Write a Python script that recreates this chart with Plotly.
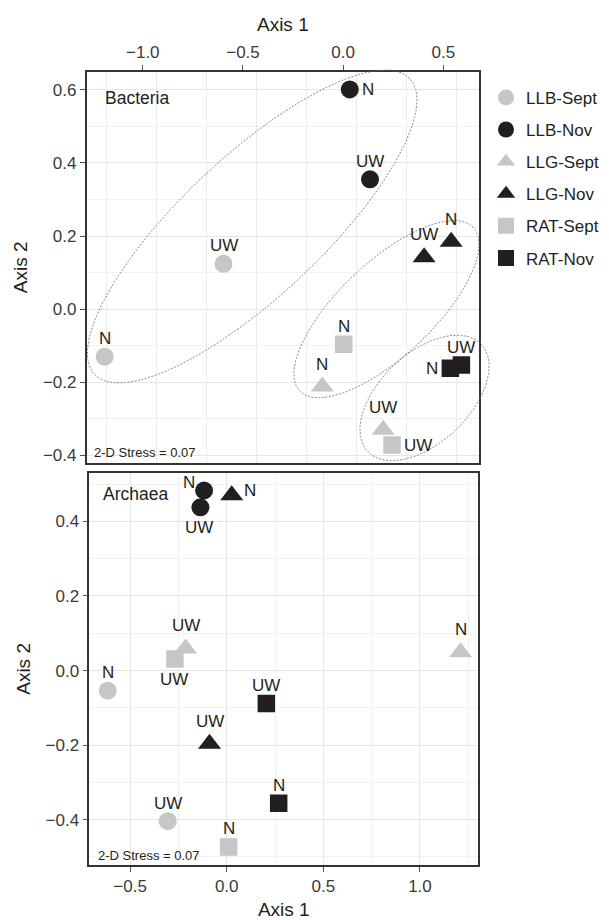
import numpy as np
import plotly.graph_objects as go

W, H = 609, 920
FONT = "Liberation Sans, Arial, sans-serif"
INK = "#231f20"
GREY = "#c5c6c8"

# ---- data -------------------------------------------------------------
series = ["LLB-Sept", "LLB-Nov", "LLG-Sept", "LLG-Nov", "RAT-Sept", "RAT-Nov"]
samples = ["N", "UW"]
series_symbol = ["circle", "circle", "triangle-up", "triangle-up", "square", "square"]
series_colour = [GREY, INK, GREY, INK, GREY, INK]
series_size = [18, 18, 20, 20, 17.5, 17.5]

# nMDS scores, one [N, UW] pair per series
bacteria_axis1 = [[-1.190, -0.597], [0.033, 0.134], [-0.104, 0.200],
                  [0.539, 0.404], [0.003, 0.244], [0.535, 0.590]]
bacteria_axis2 = [[-0.130, 0.124], [0.601, 0.355], [-0.212, -0.330],
                  [0.184, 0.142], [-0.096, -0.372], [-0.162, -0.153]]
archaea_axis1 = [[-0.616, -0.305], [-0.117, -0.136], [1.210, -0.213],
                 [0.026, -0.089], [0.010, -0.268], [0.269, 0.205]]
archaea_axis2 = [[-0.054, -0.404], [0.483, 0.438], [0.049, 0.059],
                 [0.470, -0.196], [-0.473, 0.031], [-0.356, -0.088]]

# where each sample name sits relative to its point
bacteria_label_pos = [["above", "above"], ["right", "above"], ["above", "above"],
                      ["above", "above"], ["above", "right"], ["left", "above"]]
archaea_label_pos = [["above", "above"], ["upleft", "below"], ["above", "above"],
                     ["right", "above"], ["above", "below"], ["above", "above"]]

# cluster ellipses (bacteria): centre and two conjugate semi-axis vectors
ellipse_centre = [(-0.454, 0.226), (0.216, 0.000), (0.406, -0.243)]
ellipse_u = [(0.7865, 0.4049), (0.4331, 0.2241), (0.2827, 0.1473)]
ellipse_v = [(-0.2409, 0.1392), (-0.1621, 0.0932), (-0.1551, 0.0885)]

stress_text = "2-D Stress = 0.07"

# ---- layout geometry (pixel boxes: left, top, right, bottom) ---------
TOP_BOX = (86.7, 71.7, 479.0, 464.0)
BOT_BOX = (89.3, 474.0, 478.3, 866.7)
TOP_XR, TOP_YR = [-1.28, 0.678], [-0.421, 0.650]
BOT_XR, BOT_YR = [-0.711, 1.302], [-0.521, 0.530]
PAD = 20  # px of room for the ellipses beyond the frame


def xdom(box, pad=0):
    return [(box[0] - pad) / W, (box[2] + pad) / W]


def ydom(box, pad=0):
    return [1 - (box[3] + pad) / H, 1 - (box[1] - pad) / H]


def padded(rng, span_px, pad):
    per_px = (rng[1] - rng[0]) / span_px
    return [rng[0] - pad * per_px, rng[1] + pad * per_px]


fig = go.Figure()


def add_points(xs, ys, xa, ya, legend):
    for i, name in enumerate(series):
        fig.add_trace(go.Scatter(
            x=xs[i], y=ys[i], xaxis=xa, yaxis=ya, mode="markers",
            name=name, legendgroup=name, showlegend=legend,
            marker=dict(symbol=series_symbol[i], size=series_size[i],
                        color=series_colour[i], line=dict(width=0)),
            hoverinfo="skip"))


# ellipses live on a slightly larger helper subplot so they are not clipped
t = np.linspace(0, 2 * np.pi, 361)
for c, u, v in zip(ellipse_centre, ellipse_u, ellipse_v):
    fig.add_trace(go.Scatter(
        x=c[0] + np.cos(t) * u[0] + np.sin(t) * v[0],
        y=c[1] + np.cos(t) * u[1] + np.sin(t) * v[1],
        xaxis="x3", yaxis="y3", mode="lines", showlegend=False,
        line=dict(color="#6e6e6e", width=0.8, dash="2px,1.5px"),
        hoverinfo="skip"))

add_points(bacteria_axis1, bacteria_axis2, "x", "y", True)
add_points(archaea_axis1, archaea_axis2, "x2", "y2", False)

POS = {
    "above": dict(xanchor="center", yanchor="middle", xshift=0, yshift=18),
    "below": dict(xanchor="center", yanchor="middle", xshift=-1, yshift=-20.5),
    "right": dict(xanchor="left", yanchor="middle", xshift=10, yshift=0),
    "left": dict(xanchor="right", yanchor="middle", xshift=-10, yshift=0),
    "upleft": dict(xanchor="right", yanchor="middle", xshift=-7, yshift=8),
}

annotations = []


def add_labels(xs, ys, positions, xref, yref):
    for i in range(len(series)):
        lift = 4.6 if series_symbol[i] == "triangle-up" else 0
        for j, s in enumerate(samples):
            p = dict(POS[positions[i][j]])
            p["yshift"] = p["yshift"] + lift
            annotations.append(dict(
                x=xs[i][j], y=ys[i][j], xref=xref, yref=yref, text=s,
                showarrow=False, font=dict(family=FONT, size=17, color=INK), **p))


add_labels(bacteria_axis1, bacteria_axis2, bacteria_label_pos, "x", "y")
add_labels(archaea_axis1, archaea_axis2, archaea_label_pos, "x2", "y2")

for name, xr, yr, px, py, sx, sy in [("Bacteria", "x", "y", 0.042, 0.933, 0.014, 0.027),
                                     ("Archaea", "x2", "y2", 0.029, 0.946, 0.017, 0.025)]:
    annotations.append(dict(text=name, xref=xr + " domain", yref=yr + " domain",
                            x=px, y=py, xanchor="left", yanchor="middle", showarrow=False,
                            font=dict(family=FONT, size=17.5, color=INK)))
    annotations.append(dict(text=stress_text, xref=xr + " domain", yref=yr + " domain",
                            x=sx, y=sy, xanchor="left", yanchor="middle", showarrow=False,
                            font=dict(family="Liberation Sans Narrow, " + FONT, size=13,
                                      color=INK)))

tickfont = dict(family=FONT, size=17, color="#3a3a3a")
titlefont = dict(family=FONT, size=19, color=INK)
frame = dict(showline=True, mirror=True, linecolor="#333333", linewidth=1.6,
             ticks="outside", ticklen=5, tickwidth=1, tickcolor="#555555",
             tickfont=tickfont, tickformat=".1f", zeroline=False,
             gridcolor="#e6e6e6", gridwidth=1)

fig.update_layout(
    width=W, height=H, margin=dict(l=0, r=0, t=0, b=0),
    paper_bgcolor="white", plot_bgcolor="rgba(0,0,0,0)",
    annotations=annotations,
    xaxis=dict(frame, domain=xdom(TOP_BOX), range=TOP_XR, side="top", anchor="y",
               dtick=0.5, tick0=0, showgrid=False,
               minor=dict(tick0=0.067, dtick=0.25, showgrid=True, gridcolor="#ebebeb"),
               title=dict(text="Axis 1", font=titlefont, standoff=6)),
    yaxis=dict(frame, domain=ydom(TOP_BOX), range=TOP_YR, anchor="x",
               dtick=0.2, tick0=0, showgrid=True,
               minor=dict(dtick=0.1, showgrid=True, gridcolor="#f1f1f1"),
               title=dict(text="Axis 2", font=titlefont, standoff=10)),
    xaxis2=dict(frame, domain=xdom(BOT_BOX), range=BOT_XR, side="bottom", anchor="y2",
                dtick=0.5, tick0=0, showgrid=True,
                minor=dict(dtick=0.25, showgrid=True, gridcolor="#f1f1f1"),
                title=dict(text="Axis 1", font=titlefont, standoff=10)),
    yaxis2=dict(frame, domain=ydom(BOT_BOX), range=BOT_YR, anchor="x2",
                dtick=0.2, tick0=0, showgrid=True,
                minor=dict(dtick=0.1, showgrid=True, gridcolor="#f1f1f1"),
                title=dict(text="Axis 2", font=titlefont, standoff=10)),
    xaxis3=dict(domain=xdom(TOP_BOX, PAD), anchor="y3", visible=False,
                range=padded(TOP_XR, TOP_BOX[2] - TOP_BOX[0], PAD)),
    yaxis3=dict(domain=ydom(TOP_BOX, PAD), anchor="x3", visible=False,
                range=padded(TOP_YR, TOP_BOX[3] - TOP_BOX[1], PAD)),
    legend=dict(x=486 / W, y=1 - 80 / H, xanchor="left", yanchor="top",
                font=dict(family=FONT, size=17, color=INK),
                tracegroupgap=7, bgcolor="rgba(0,0,0,0)", itemsizing="trace"),
)

fig.write_html("out.html")
